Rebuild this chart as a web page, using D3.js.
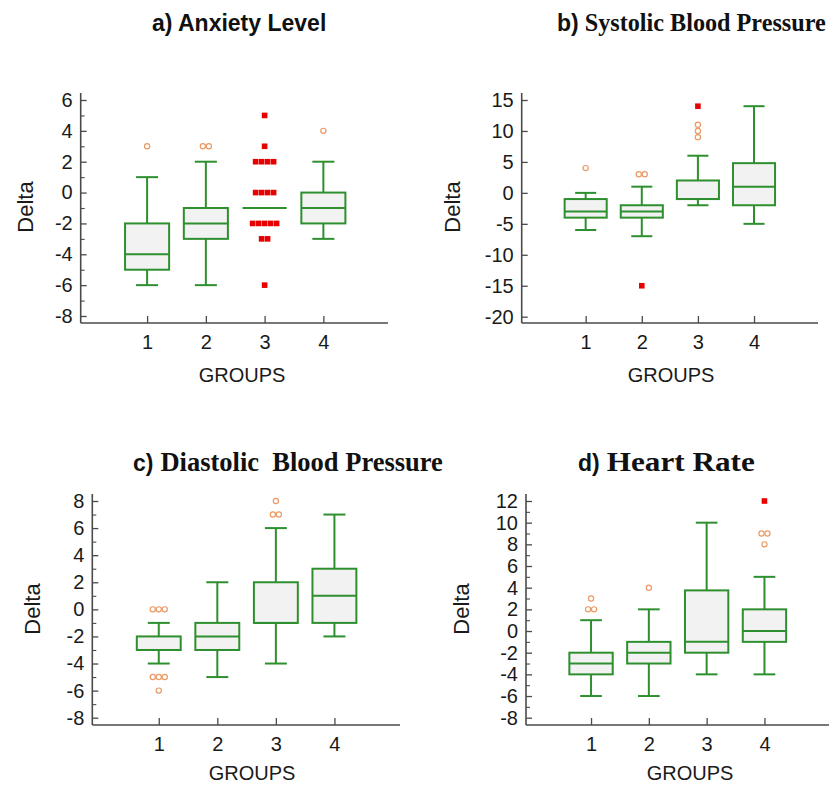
<!DOCTYPE html>
<html><head><meta charset="utf-8">
<script src="https://cdn.jsdelivr.net/npm/d3@7"></script>
<style>body{margin:0;background:#fff}</style>
</head><body>
<svg id="chart" width="829" height="785" xmlns="http://www.w3.org/2000/svg"></svg>
<script>
// ---------- DATA ----------
const groups = [1, 2, 3, 4];
// per group: [lower whisker, Q1, median, Q3, upper whisker]
const anxietyStats  = [[-6, -5, -4, -2, 1], [-6, -3, -2, -1, 2], [-1, -1, -1, -1, -1], [-3, -2, -1, 0, 2]];
const anxietyCircles = [[1, 3], [2, 3], [2, 3], [4, 4]];
const anxietySquares = [[3, 5], [3, 3], [3, 2], [3, 2], [3, 2], [3, 2], [3, 0], [3, 0], [3, 0], [3, 0],
                        [3, -2], [3, -2], [3, -2], [3, -2], [3, -2], [3, -3], [3, -3], [3, -6]];
const anxietyTicks = [6, 4, 2, 0, -2, -4, -6, -8];
const anxietyMinor = [5, 3, 1, -1, -3, -5, -7];

const systolicStats = [[-6, -4, -3, -1, 0], [-7, -4, -3, -2, 1], [-2, -1, -1, 2, 6], [-5, -2, 1, 4.8, 14]];
const systolicCircles = [[1, 4], [2, 3], [2, 3], [3, 9], [3, 10], [3, 11]];
const systolicSquares = [[2, -15], [3, 14]];
const systolicTicks = [15, 10, 5, 0, -5, -10, -15, -20];
const systolicMinor = [];

const diastolicStats = [[-4, -3, -3, -2, -1], [-5, -3, -2, -1, 2], [-4, -1, -1, 2, 6], [-2, -1, 1, 3, 7]];
const diastolicCircles = [[1, 0], [1, 0], [1, 0], [1, -5], [1, -5], [1, -5], [1, -6], [3, 7], [3, 7], [3, 8]];
const diastolicSquares = [];
const diastolicTicks = [8, 6, 4, 2, 0, -2, -4, -6, -8];
const diastolicMinor = [7, 5, 3, 1, -1, -3, -5, -7];

const heartStats = [[-6, -4, -3, -2, 1], [-6, -3, -2, -1, 2], [-4, -2, -1, 3.75, 10], [-4, -1, 0, 2, 5]];
const heartCircles = [[1, 2], [1, 2], [1, 3], [2, 4], [4, 9], [4, 9], [4, 8]];
const heartSquares = [[4, 12]];
const heartTicks = [12, 10, 8, 6, 4, 2, 0, -2, -4, -6, -8];
const heartMinor = [11, 9, 7, 5, 3, 1, -1, -3, -5, -7];

// ---------- LAYOUT ----------
const GREEN = "#2e8f2e", FILL = "#f2f2f2", ORANGE = "#eb9a66", RED = "#e60000", AXIS = "#4a4a4a";
const SANS = "'Liberation Sans', Arial, sans-serif";
const SERIF = "'Liberation Serif', 'Times New Roman', serif";

const panels = [
  { stats: anxietyStats, circles: anxietyCircles, squares: anxietySquares, ticks: anxietyTicks, minor: anxietyMinor,
    yDomain: [-8, 6], yRange: [316, 100], axisTop: 93, axisY: 323,
    xDomain: [-0.13, 5.1], xRange: [80.7, 388], delta: [25, 207], groupsLabel: [242, 382] },
  { stats: systolicStats, circles: systolicCircles, squares: systolicSquares, ticks: systolicTicks, minor: systolicMinor,
    yDomain: [-20, 15], yRange: [316.7, 100], axisTop: 93, axisY: 323,
    xDomain: [-0.14, 5.14], xRange: [521.7, 818], delta: [452, 207], groupsLabel: [671, 382] },
  { stats: diastolicStats, circles: diastolicCircles, squares: diastolicSquares, ticks: diastolicTicks, minor: diastolicMinor,
    yDomain: [-8, 8], yRange: [717.7, 501], axisTop: 494, axisY: 725,
    xDomain: [-0.135, 5.12], xRange: [92.3, 400], delta: [32, 609], groupsLabel: [252, 780] },
  { stats: heartStats, circles: heartCircles, squares: heartSquares, ticks: heartTicks, minor: heartMinor,
    yDomain: [-8, 12], yRange: [717.7, 501], axisTop: 494, axisY: 725,
    xDomain: [-0.125, 5.12], xRange: [526, 829.2], delta: [461, 609], groupsLabel: [690, 780] }
];

const svg = d3.select("#chart");

function withOffsets(points) {
  const counts = {}, idx = {};
  points.forEach(p => { const k = p[0] + "_" + p[1]; counts[k] = (counts[k] || 0) + 1; });
  return points.map(p => {
    const k = p[0] + "_" + p[1];
    idx[k] = (idx[k] || 0);
    const i = idx[k]++;
    return { g: p[0], v: p[1], off: i - (counts[k] - 1) / 2 };
  });
}

panels.forEach(p => {
  const g = svg.append("g");
  const x = d3.scaleLinear().domain(p.xDomain).range(p.xRange);
  const y = d3.scaleLinear().domain(p.yDomain).range(p.yRange);
  const left = p.xRange[0];
  const unit = x(1) - x(0);
  const bw = 0.75 * unit, cw = 0.375 * unit;

  // axes
  const ya = d3.axisLeft(y).tickValues(p.ticks).tickSize(-6).tickPadding(8).tickFormat(d => String(d));
  const yg = g.append("g").attr("transform", `translate(${left},0)`).call(ya);
  yg.select(".domain").remove();
  yg.selectAll("line").attr("stroke", AXIS).attr("stroke-width", 1.3);
  yg.selectAll("text").attr("font-family", SANS).attr("font-size", 20).attr("fill", "#1a1a1a");
  if (p.minor.length) {
    const ym = d3.axisLeft(y).tickValues(p.minor).tickSize(-4).tickFormat("");
    const mg = g.append("g").attr("transform", `translate(${left},0)`).call(ym);
    mg.select(".domain").remove();
    mg.selectAll("line").attr("stroke", AXIS).attr("stroke-width", 1.1);
  }
  const xa = d3.axisBottom(x).tickValues(groups).tickSize(-7).tickPadding(12).tickFormat(d => String(d));
  const xg = g.append("g").attr("transform", `translate(0,${p.axisY})`).call(xa);
  xg.select(".domain").remove();
  xg.selectAll("line").attr("stroke", AXIS).attr("stroke-width", 1.3);
  xg.selectAll("text").attr("font-family", SANS).attr("font-size", 20).attr("fill", "#1a1a1a");

  g.append("line").attr("x1", left).attr("x2", left).attr("y1", p.axisTop).attr("y2", p.axisY)
    .attr("stroke", AXIS).attr("stroke-width", 1.6);
  g.append("line").attr("x1", left).attr("x2", p.xRange[1]).attr("y1", p.axisY).attr("y2", p.axisY)
    .attr("stroke", AXIS).attr("stroke-width", 1.6);

  // labels
  g.append("text").attr("transform", `translate(${p.delta[0]},${p.delta[1]}) rotate(-90)`)
    .attr("text-anchor", "middle").attr("dominant-baseline", "central")
    .attr("font-family", SANS).attr("font-size", 22).attr("fill", "#1a1a1a").text("Delta");
  g.append("text").attr("x", p.groupsLabel[0]).attr("y", p.groupsLabel[1])
    .attr("text-anchor", "middle").attr("font-family", SANS).attr("font-size", 20).attr("fill", "#1a1a1a").text("GROUPS");

  // boxes
  const bx = g.selectAll(".box").data(p.stats).enter().append("g");
  bx.append("line").attr("x1", (d, i) => x(groups[i])).attr("x2", (d, i) => x(groups[i]))
    .attr("y1", d => y(d[0])).attr("y2", d => y(d[1])).attr("stroke", GREEN).attr("stroke-width", 2);
  bx.append("line").attr("x1", (d, i) => x(groups[i])).attr("x2", (d, i) => x(groups[i]))
    .attr("y1", d => y(d[3])).attr("y2", d => y(d[4])).attr("stroke", GREEN).attr("stroke-width", 2);
  bx.append("line").attr("x1", (d, i) => x(groups[i]) - cw / 2).attr("x2", (d, i) => x(groups[i]) + cw / 2)
    .attr("y1", d => y(d[0])).attr("y2", d => y(d[0])).attr("stroke", GREEN).attr("stroke-width", 2);
  bx.append("line").attr("x1", (d, i) => x(groups[i]) - cw / 2).attr("x2", (d, i) => x(groups[i]) + cw / 2)
    .attr("y1", d => y(d[4])).attr("y2", d => y(d[4])).attr("stroke", GREEN).attr("stroke-width", 2);
  bx.append("rect").attr("x", (d, i) => x(groups[i]) - bw / 2).attr("width", bw)
    .attr("y", d => y(d[3])).attr("height", d => y(d[1]) - y(d[3]))
    .attr("fill", FILL).attr("stroke", GREEN).attr("stroke-width", 2);
  bx.append("line").attr("x1", (d, i) => x(groups[i]) - bw / 2).attr("x2", (d, i) => x(groups[i]) + bw / 2)
    .attr("y1", d => y(d[2])).attr("y2", d => y(d[2])).attr("stroke", GREEN).attr("stroke-width", 2);

  // outliers
  g.selectAll(".circ").data(withOffsets(p.circles)).enter().append("circle")
    .attr("cx", d => x(d.g) + d.off * 6).attr("cy", d => y(d.v)).attr("r", 2.6)
    .attr("fill", "none").attr("stroke", ORANGE).attr("stroke-width", 1.2);
  g.selectAll(".sq").data(withOffsets(p.squares)).enter().append("rect")
    .attr("x", d => x(d.g) + d.off * 6 - 2.8).attr("y", d => y(d.v) - 2.8)
    .attr("width", 5.6).attr("height", 5.6).attr("fill", RED);
});

// titles
const titles = [
  { x: 152, y: 31, pre: "a) Anxiety Level", rest: "", size: 23, gap: 0 },
  { x: 557, y: 31, pre: "b)", rest: "Systolic Blood Pressure", size: 24.2, gap: 6 },
  { x: 133, y: 471, pre: "c)", rest: "Diastolic  Blood Pressure", size: 26.5, gap: 7, len: 0 },
  { x: 578, y: 471, pre: "d)", rest: "Heart Rate", size: 27.5, gap: 7, len: 148 }
];
titles.forEach(t => {
  const a = svg.append("text").attr("x", t.x).attr("y", t.y).attr("fill", "#111")
    .attr("font-family", SANS).attr("font-weight", "bold").attr("font-size", 23).text(t.pre);
  if (t.rest) {
    const w = a.node().getComputedTextLength();
    const r = svg.append("text").attr("x", t.x + w + t.gap).attr("y", t.y).attr("fill", "#111")
      .attr("font-family", SERIF).attr("font-weight", "bold").attr("font-size", t.size)
      .style("white-space", "pre").text(t.rest);
    if (t.len) r.attr("textLength", t.len).attr("lengthAdjust", "spacingAndGlyphs");
  }
});
</script>
</body></html>
